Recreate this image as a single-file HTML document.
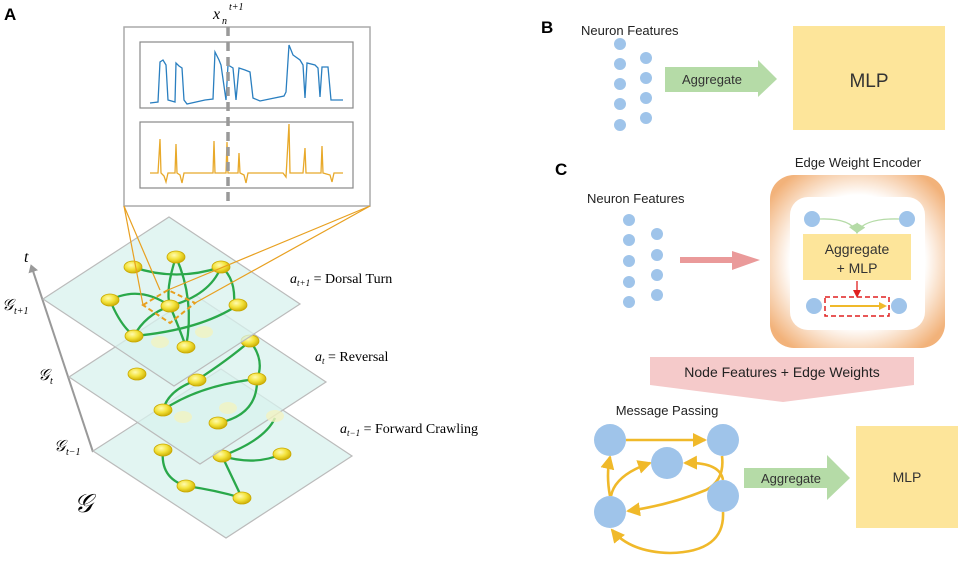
<!DOCTYPE html>
<html><head><meta charset="utf-8"><style>
html,body{margin:0;padding:0;background:#fff;}
svg{display:block;}
.s{font-family:"Liberation Sans",sans-serif;}
.m{font-family:"Liberation Serif",serif;}
</style></head><body>
<svg width="962" height="561" viewBox="0 0 962 561" xmlns="http://www.w3.org/2000/svg">
<defs>
<radialGradient id="ng" cx="40%" cy="35%" r="70%"><stop offset="0" stop-color="#fffbb0"/><stop offset="0.5" stop-color="#f3e23a"/><stop offset="1" stop-color="#c9a900"/></radialGradient>
<radialGradient id="og" cx="50%" cy="50%" r="62%"><stop offset="0.62" stop-color="#fff"/><stop offset="1" stop-color="#f2b27a"/></radialGradient>
<marker id="ya" markerWidth="8" markerHeight="8" refX="6" refY="4" orient="auto" markerUnits="userSpaceOnUse"><path d="M0,0 L8,4 L0,8 Z" fill="#f0b92a"/></marker>
<marker id="yb" markerWidth="14" markerHeight="14" refX="12" refY="7" orient="auto" markerUnits="userSpaceOnUse"><path d="M0,0 L14,7 L0,14 Z" fill="#f0b92a"/></marker>
<marker id="ga" markerWidth="10" markerHeight="10" refX="8" refY="5" orient="auto" markerUnits="userSpaceOnUse"><path d="M0,0 L10,5 L0,10 Z" fill="#b5dba7"/></marker>
<marker id="ra" markerWidth="8" markerHeight="8" refX="6" refY="4" orient="auto" markerUnits="userSpaceOnUse"><path d="M0,0 L8,4 L0,8 Z" fill="#e02020"/></marker>
<marker id="gra" markerWidth="8" markerHeight="10" refX="4" refY="5" orient="auto" markerUnits="userSpaceOnUse"><path d="M0,0 L8,5 L0,10 Z" fill="#999"/></marker>
</defs>

<!-- Panel A -->
<text x="4" y="20" class="s" font-weight="bold" font-size="17">A</text>
<text x="213" y="19" class="m" font-style="italic" font-size="16">x</text>
<text x="229" y="10" class="m" font-style="italic" font-size="10">t+1</text>
<text x="222" y="24" class="m" font-style="italic" font-size="10">n</text>
<rect x="124" y="27" width="246" height="179" fill="#fff" stroke="#aaa" stroke-width="1.5"/>
<rect x="140" y="42" width="213" height="66" fill="#fff" stroke="#888" stroke-width="1.2"/>
<rect x="140" y="122" width="213" height="66" fill="#fff" stroke="#888" stroke-width="1.2"/>
<path d="M150,103 L158,102 L160,62 L163,60 L166,65 L168,100 L175,102 L176,63 L179,66 L182,68 L184,100 L187,104 L205,100 L213,99 L215,52 L219,60 L221,65 L226,100 L228,65 L233,68 L236,100 L239,68 L245,70 L250,72 L253,98 L260,101 L284,96 L286,92 L289,45 L293,55 L300,60 L303,65 L305,98 L307,63 L315,65 L318,68 L320,97 L322,67 L328,67 L331,100 L343,100" fill="none" stroke="#2a7fc0" stroke-width="1.3"/>
<path d="M150,173 L158,173 L160,139 L161,173 L164,176 L166,182 L168,173 L175,173 L176,144 L177,173 L180,175 L182,183 L184,173 L213,173 L214,141 L215,173 L226,173 L227,142 L228,173 L238,173 L239,153 L240,173 L244,175 L246,183 L248,173 L283,173 L286,177 L289,124 L290,173 L303,173 L305,148 L306,173 L321,173 L322,146 L323,173 L330,175 L332,182 L334,173 L343,173" fill="none" stroke="#e8a92a" stroke-width="1.3"/>
<line x1="228" y1="27" x2="228" y2="206" stroke="#999" stroke-width="3.5" stroke-dasharray="9,6"/>

<!-- axis -->
<line x1="93" y1="452" x2="32" y2="268" stroke="#999" stroke-width="2" marker-end="url(#gra)"/>
<text x="24" y="262" class="m" font-style="italic" font-size="16">t</text>
<text x="2" y="310" class="m" font-style="italic" font-size="16">𝒢</text><text x="14" y="314" class="m" font-style="italic" font-size="10">t+1</text>
<text x="38" y="380" class="m" font-style="italic" font-size="16">𝒢</text><text x="50" y="384" class="m" font-style="italic" font-size="10">t</text>
<text x="54" y="451" class="m" font-style="italic" font-size="16">𝒢</text><text x="66" y="455" class="m" font-style="italic" font-size="10">t−1</text>
<text x="74" y="512" class="m" font-style="italic" font-size="26">𝒢</text>

<!-- bottom plane -->
<polygon points="221,369 352,456 226,538 93,451" fill="#d8f1ee" fill-opacity="0.75" stroke="#bbb" stroke-width="1.2"/>
<g fill="none" stroke="#2aa84a" stroke-width="2.3">
<path d="M163,450 Q160,478 186,486"/><path d="M186,486 Q215,490 242,498"/><path d="M222,456 L242,498"/><path d="M222,456 Q255,466 282,454"/><path d="M222,456 Q265,440 275,418"/>
</g>
<g fill="url(#ng)" stroke="#c9a800" stroke-width="0.8">
<ellipse cx="163" cy="450" rx="9" ry="6"/><ellipse cx="222" cy="456" rx="9" ry="6"/><ellipse cx="282" cy="454" rx="9" ry="6"/><ellipse cx="186" cy="486" rx="9" ry="6"/><ellipse cx="242" cy="498" rx="9" ry="6"/>
</g>
<!-- middle plane -->
<polygon points="195,295 326,382 200,464 69,377" fill="#d8f1ee" fill-opacity="0.75" stroke="#bbb" stroke-width="1.2"/>
<g fill="#f2f3c2" opacity="0.8"><ellipse cx="183" cy="417" rx="9" ry="6"/><ellipse cx="228" cy="408" rx="9" ry="6"/><ellipse cx="275" cy="416" rx="9" ry="6"/></g>
<g fill="none" stroke="#2aa84a" stroke-width="2.3">
<path d="M250,341 Q265,360 257,379"/><path d="M257,379 Q200,385 163,410"/><path d="M257,379 Q258,415 218,423"/><path d="M197,380 Q228,360 250,341"/><path d="M163,410 Q168,390 197,380"/>
</g>
<g fill="url(#ng)" stroke="#c9a800" stroke-width="0.8">
<ellipse cx="137" cy="374" rx="9" ry="6"/><ellipse cx="197" cy="380" rx="9" ry="6"/><ellipse cx="250" cy="341" rx="9" ry="6"/><ellipse cx="257" cy="379" rx="9" ry="6"/><ellipse cx="163" cy="410" rx="9" ry="6"/><ellipse cx="218" cy="423" rx="9" ry="6"/>
</g>
<!-- top plane -->
<polygon points="169,217 300,304 174,386 43,299" fill="#d8f1ee" fill-opacity="0.75" stroke="#bbb" stroke-width="1.2"/>
<g fill="#f2f3c2" opacity="0.8"><ellipse cx="160" cy="342" rx="9" ry="6"/><ellipse cx="204" cy="332" rx="9" ry="6"/></g>
<g fill="none" stroke="#2aa84a" stroke-width="2.3">
<path d="M133,267 Q176,282 221,267"/><path d="M176,257 Q165,290 170,306"/><path d="M176,257 Q195,300 186,347"/><path d="M221,267 Q236,278 234,305"/><path d="M221,267 Q210,295 170,306"/><path d="M110,300 Q140,285 170,306"/><path d="M110,300 Q120,325 134,336"/><path d="M134,336 Q200,330 238,305"/><path d="M134,336 Q145,315 170,306"/><path d="M170,306 Q180,330 186,347"/>
</g>
<g fill="url(#ng)" stroke="#c9a800" stroke-width="0.8">
<ellipse cx="133" cy="267" rx="9" ry="6"/><ellipse cx="176" cy="257" rx="9" ry="6"/><ellipse cx="221" cy="267" rx="9" ry="6"/><ellipse cx="110" cy="300" rx="9" ry="6"/><ellipse cx="170" cy="306" rx="9" ry="6"/><ellipse cx="238" cy="305" rx="9" ry="6"/><ellipse cx="134" cy="336" rx="9" ry="6"/><ellipse cx="186" cy="347" rx="9" ry="6"/>
</g>
<polygon points="143,305 168,290 195,303 170,323" fill="none" stroke="#e8a020" stroke-width="2" stroke-dasharray="5,3"/>
<g stroke="#e8a020" stroke-width="1.2">
<line x1="124" y1="206" x2="143" y2="305"/><line x1="124" y1="206" x2="160" y2="290"/><line x1="370" y1="206" x2="168" y2="290"/><line x1="370" y1="206" x2="195" y2="303"/>
</g>
<text x="290" y="283" class="m" font-size="14"><tspan font-style="italic">a</tspan><tspan font-size="9" dy="3" font-style="italic">t+1</tspan><tspan dy="-3"> = Dorsal Turn</tspan></text>
<text x="315" y="361" class="m" font-size="14"><tspan font-style="italic">a</tspan><tspan font-size="9" dy="3" font-style="italic">t</tspan><tspan dy="-3"> = Reversal</tspan></text>
<text x="340" y="433" class="m" font-size="14"><tspan font-style="italic">a</tspan><tspan font-size="9" dy="3" font-style="italic">t−1</tspan><tspan dy="-3"> = Forward Crawling</tspan></text>

<!-- Panel B -->
<text x="541" y="33" class="s" font-weight="bold" font-size="17">B</text>
<text x="581" y="35" class="s" font-size="13" fill="#222">Neuron Features</text>
<g fill="#9fc4ea">
<circle cx="620" cy="44" r="6"/><circle cx="620" cy="64" r="6"/><circle cx="620" cy="84" r="6"/><circle cx="620" cy="104" r="6"/><circle cx="620" cy="125" r="6"/>
<circle cx="646" cy="58" r="6"/><circle cx="646" cy="78" r="6"/><circle cx="646" cy="98" r="6"/><circle cx="646" cy="118" r="6"/>
</g>
<polygon points="665,67 758,67 758,60 777,79 758,97 758,92 665,92" fill="#b5dba7"/>
<text x="712" y="84" class="s" font-size="13" text-anchor="middle" fill="#333">Aggregate</text>
<rect x="793" y="26" width="152" height="104" fill="#fde59a"/>
<text x="869" y="87" class="s" font-size="19" text-anchor="middle" fill="#333">MLP</text>

<!-- Panel C -->
<text x="555" y="175" class="s" font-weight="bold" font-size="17">C</text>
<text x="858" y="167" class="s" font-size="13" text-anchor="middle" fill="#222">Edge Weight Encoder</text>
<text x="587" y="203" class="s" font-size="13" fill="#222">Neuron Features</text>
<g fill="#9fc4ea">
<circle cx="629" cy="220" r="6"/><circle cx="629" cy="240" r="6"/><circle cx="629" cy="261" r="6"/><circle cx="629" cy="282" r="6"/><circle cx="629" cy="302" r="6"/>
<circle cx="657" cy="234" r="6"/><circle cx="657" cy="255" r="6"/><circle cx="657" cy="275" r="6"/><circle cx="657" cy="295" r="6"/>
</g>
<polygon points="680,257 732,257 732,251 760,260 732,270 732,263 680,263" fill="#ea9a9a"/>
<rect x="770" y="175" width="175" height="173" rx="24" fill="url(#og)"/>
<rect x="790" y="197" width="135" height="133" rx="18" fill="#fff"/>
<circle cx="812" cy="219" r="8" fill="#9fc4ea"/><circle cx="907" cy="219" r="8" fill="#9fc4ea"/>
<path d="M820,219 Q850,218 857,232" fill="none" stroke="#b5dba7" stroke-width="1.3" marker-end="url(#ga)"/>
<path d="M899,219 Q865,218 857,232" fill="none" stroke="#b5dba7" stroke-width="1.3" marker-end="url(#ga)"/>
<rect x="803" y="234" width="108" height="46" fill="#fde59a"/>
<text x="857" y="254" class="s" font-size="14" text-anchor="middle" fill="#333">Aggregate</text>
<text x="857" y="273" class="s" font-size="14" text-anchor="middle" fill="#333">+ MLP</text>
<line x1="857" y1="281" x2="857" y2="296" stroke="#e02020" stroke-width="1.3" marker-end="url(#ra)"/>
<circle cx="814" cy="306" r="8" fill="#9fc4ea"/><circle cx="899" cy="306" r="8" fill="#9fc4ea"/>
<rect x="825" y="297" width="64" height="19" fill="none" stroke="#e02020" stroke-width="1.5" stroke-dasharray="5,3"/>
<line x1="830" y1="306" x2="885" y2="306" stroke="#f0b92a" stroke-width="2" marker-end="url(#ya)"/>
<polygon points="650,357 914,357 914,385 783,402 650,385" fill="#f5caca"/>
<text x="782" y="377" class="s" font-size="14" text-anchor="middle" fill="#222">Node Features + Edge Weights</text>
<text x="667" y="415" class="s" font-size="13" text-anchor="middle" fill="#222">Message Passing</text>
<g fill="none" stroke="#f0b92a" stroke-width="2.6">
<line x1="626" y1="440" x2="705" y2="440" marker-end="url(#yb)"/>
<path d="M610,496 Q606,475 610,457" marker-end="url(#yb)"/>
<path d="M611,496 Q615,475 650,463" marker-end="url(#yb)"/>
<path d="M722,456 Q725,480 706,490 Q670,505 628,511" marker-end="url(#yb)"/>
<path d="M723,480 Q720,462 685,463" marker-end="url(#yb)"/>
<path d="M723,512 Q725,552 670,553 Q630,552 612,530" marker-end="url(#yb)"/>
</g>
<g fill="#9fc4ea">
<circle cx="610" cy="440" r="16"/><circle cx="723" cy="440" r="16"/><circle cx="667" cy="463" r="16"/><circle cx="610" cy="512" r="16"/><circle cx="723" cy="496" r="16"/>
</g>
<polygon points="744,468 827,468 827,455 850,478 827,500 827,488 744,488" fill="#b5dba7"/>
<text x="791" y="483" class="s" font-size="13" text-anchor="middle" fill="#333">Aggregate</text>
<rect x="856" y="426" width="102" height="102" fill="#fde59a"/>
<text x="907" y="482" class="s" font-size="14" text-anchor="middle" fill="#333">MLP</text>
</svg>
</body></html>
